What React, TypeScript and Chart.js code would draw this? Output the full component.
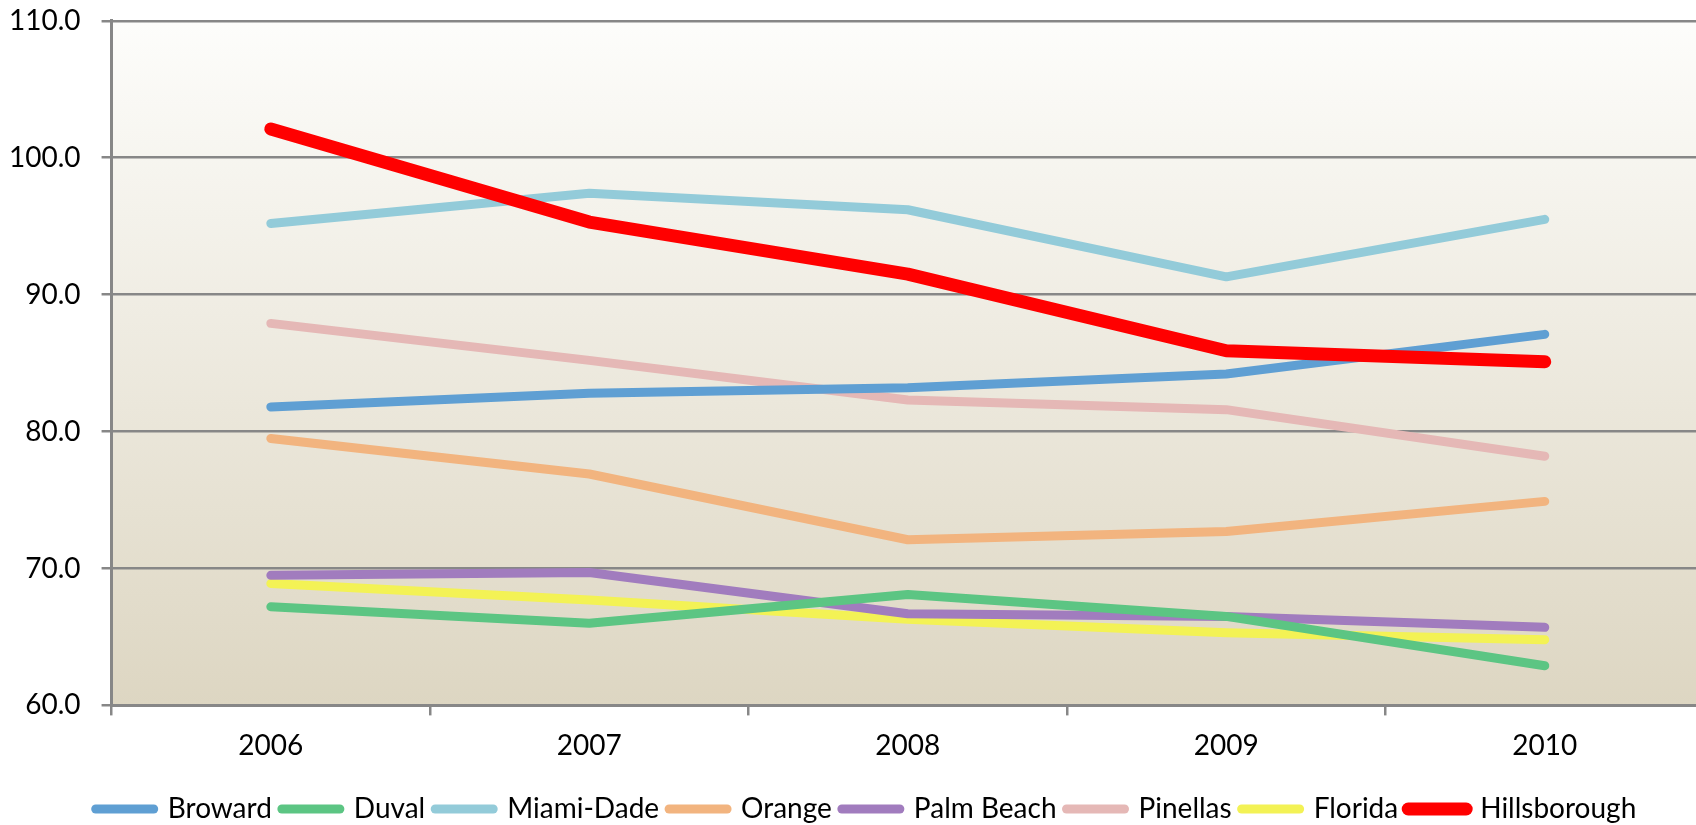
import { useEffect, useRef } from 'react';
import { Chart, registerables } from 'chart.js';

Chart.register(...registerables);

const years = ['2006', '2007', '2008', '2009', '2010'];

const broward = [81.8, 82.8, 83.2, 84.2, 87.1];
const duval = [67.2, 66.0, 68.1, 66.5, 62.9];
const miamiDade = [95.2, 97.4, 96.2, 91.3, 95.5];
const orange = [79.5, 76.9, 72.1, 72.7, 74.9];
const palmBeach = [69.5, 69.7, 66.7, 66.5, 65.7];
const pinellas = [87.9, 85.2, 82.3, 81.6, 78.2];
const florida = [68.9, 67.7, 66.3, 65.3, 64.8];
const hillsborough = [102.1, 95.3, 91.5, 85.9, 85.1];

const FONT = 'Lato, "Liberation Sans", sans-serif';
const AXIS_GRAY = '#878787';

// fills the plot area with the beige gradient
const plotBackground = {
  id: 'plotBackground',
  beforeDraw(chart: Chart) {
    const { ctx, chartArea } = chart;
    if (!chartArea) return;
    const g = ctx.createLinearGradient(0, chartArea.top, 0, chartArea.bottom);
    g.addColorStop(0, '#fdfdfb');
    g.addColorStop(1, '#ddd6c2');
    ctx.save();
    ctx.fillStyle = g;
    ctx.fillRect(chartArea.left, chartArea.top, chartArea.right - chartArea.left, chartArea.bottom - chartArea.top);
    ctx.restore();
  },
};

// the legend row sits a bit right of the plot's centre
const shiftLegend = {
  id: 'shiftLegend',
  afterLayout(chart: Chart) {
    const l = chart.legend;
    if (!l) return;
    l.left += 20;
    l.right += 20;
  },
};

function series(label: string, data: number[], color: string, width = 9, order = 0) {
  return {
    label,
    data,
    borderColor: color,
    backgroundColor: color,
    borderWidth: width,
    borderCapStyle: 'round' as const,
    borderJoinStyle: 'round' as const,
    pointRadius: 0,
    pointHoverRadius: 0,
    pointStyle: 'line' as const,
    tension: 0,
    fill: false,
    order,
  };
}

export default function App() {
  const chartRef = useRef<HTMLCanvasElement>(null);

  useEffect(() => {
    if (!chartRef.current) return;
    const ctx = chartRef.current.getContext('2d');
    if (!ctx) return;

    const chart = new Chart(ctx, {
      type: 'line',
      data: {
        labels: years,
        datasets: [
          series('Broward', broward, '#5f9fd3'),
          series('Duval', duval, '#5cc583'),
          series('Miami-Dade', miamiDade, '#93cbd9'),
          series('Orange', orange, '#f2b47f'),
          series('Palm Beach', palmBeach, '#a17cbe'),
          series('Pinellas', pinellas, '#e5b8b6'),
          series('Florida', florida, '#f3f255'),
          series('Hillsborough', hillsborough, '#ff0000', 13, -1),
        ],
      },
      options: {
        responsive: true,
        maintainAspectRatio: false,
        animation: false,
        layout: {
          padding: { left: -12, top: 0, right: 32, bottom: -8 },
        },
        plugins: {
          legend: {
            display: true,
            position: 'bottom',
            // empty title only adds room above the legend row
            title: { display: true, text: ' ', padding: 0, font: { size: 8, lineHeight: 1 } },
            labels: {
              color: '#000',
              font: { family: FONT, size: 28 },
              usePointStyle: true,
              pointStyleWidth: 58,
              boxHeight: 10,
              padding: 10,
              sort: (a, b) => (a.datasetIndex ?? 0) - (b.datasetIndex ?? 0),
              generateLabels: (c) =>
                Chart.defaults.plugins.legend.labels
                  .generateLabels(c)
                  .map((item) => ({ ...item, lineCap: 'round' as const })),
            },
          },
          tooltip: { enabled: false },
        },
        scales: {
          x: {
            offset: true,
            grid: {
              offset: true,
              drawOnChartArea: false,
              drawTicks: true,
              tickLength: 10,
              color: AXIS_GRAY,
              lineWidth: 2.5,
            },
            border: { color: AXIS_GRAY, width: 3 },
            ticks: {
              color: '#000',
              padding: 14,
              font: { family: FONT, size: 28 },
            },
          },
          y: {
            min: 60,
            max: 110,
            grid: {
              color: AXIS_GRAY,
              lineWidth: 2.5,
              drawTicks: true,
              tickLength: 10,
            },
            border: { color: AXIS_GRAY, width: 3 },
            ticks: {
              stepSize: 10,
              color: '#000',
              padding: 21,
              font: { family: FONT, size: 28 },
              callback: (v) => Number(v).toFixed(1),
            },
          },
        },
      },
      plugins: [plotBackground, shiftLegend],
    });

    return () => {
      chart.destroy();
    };
  }, []);

  return (
    <div style={{ position: 'absolute', left: 0, top: 0, width: 1696, height: 825, overflow: 'hidden', background: '#fff' }}>
      <div style={{ position: 'absolute', left: 0, top: -17, width: 1736, height: 842 }}>
        <canvas ref={chartRef}></canvas>
      </div>
    </div>
  );
}
